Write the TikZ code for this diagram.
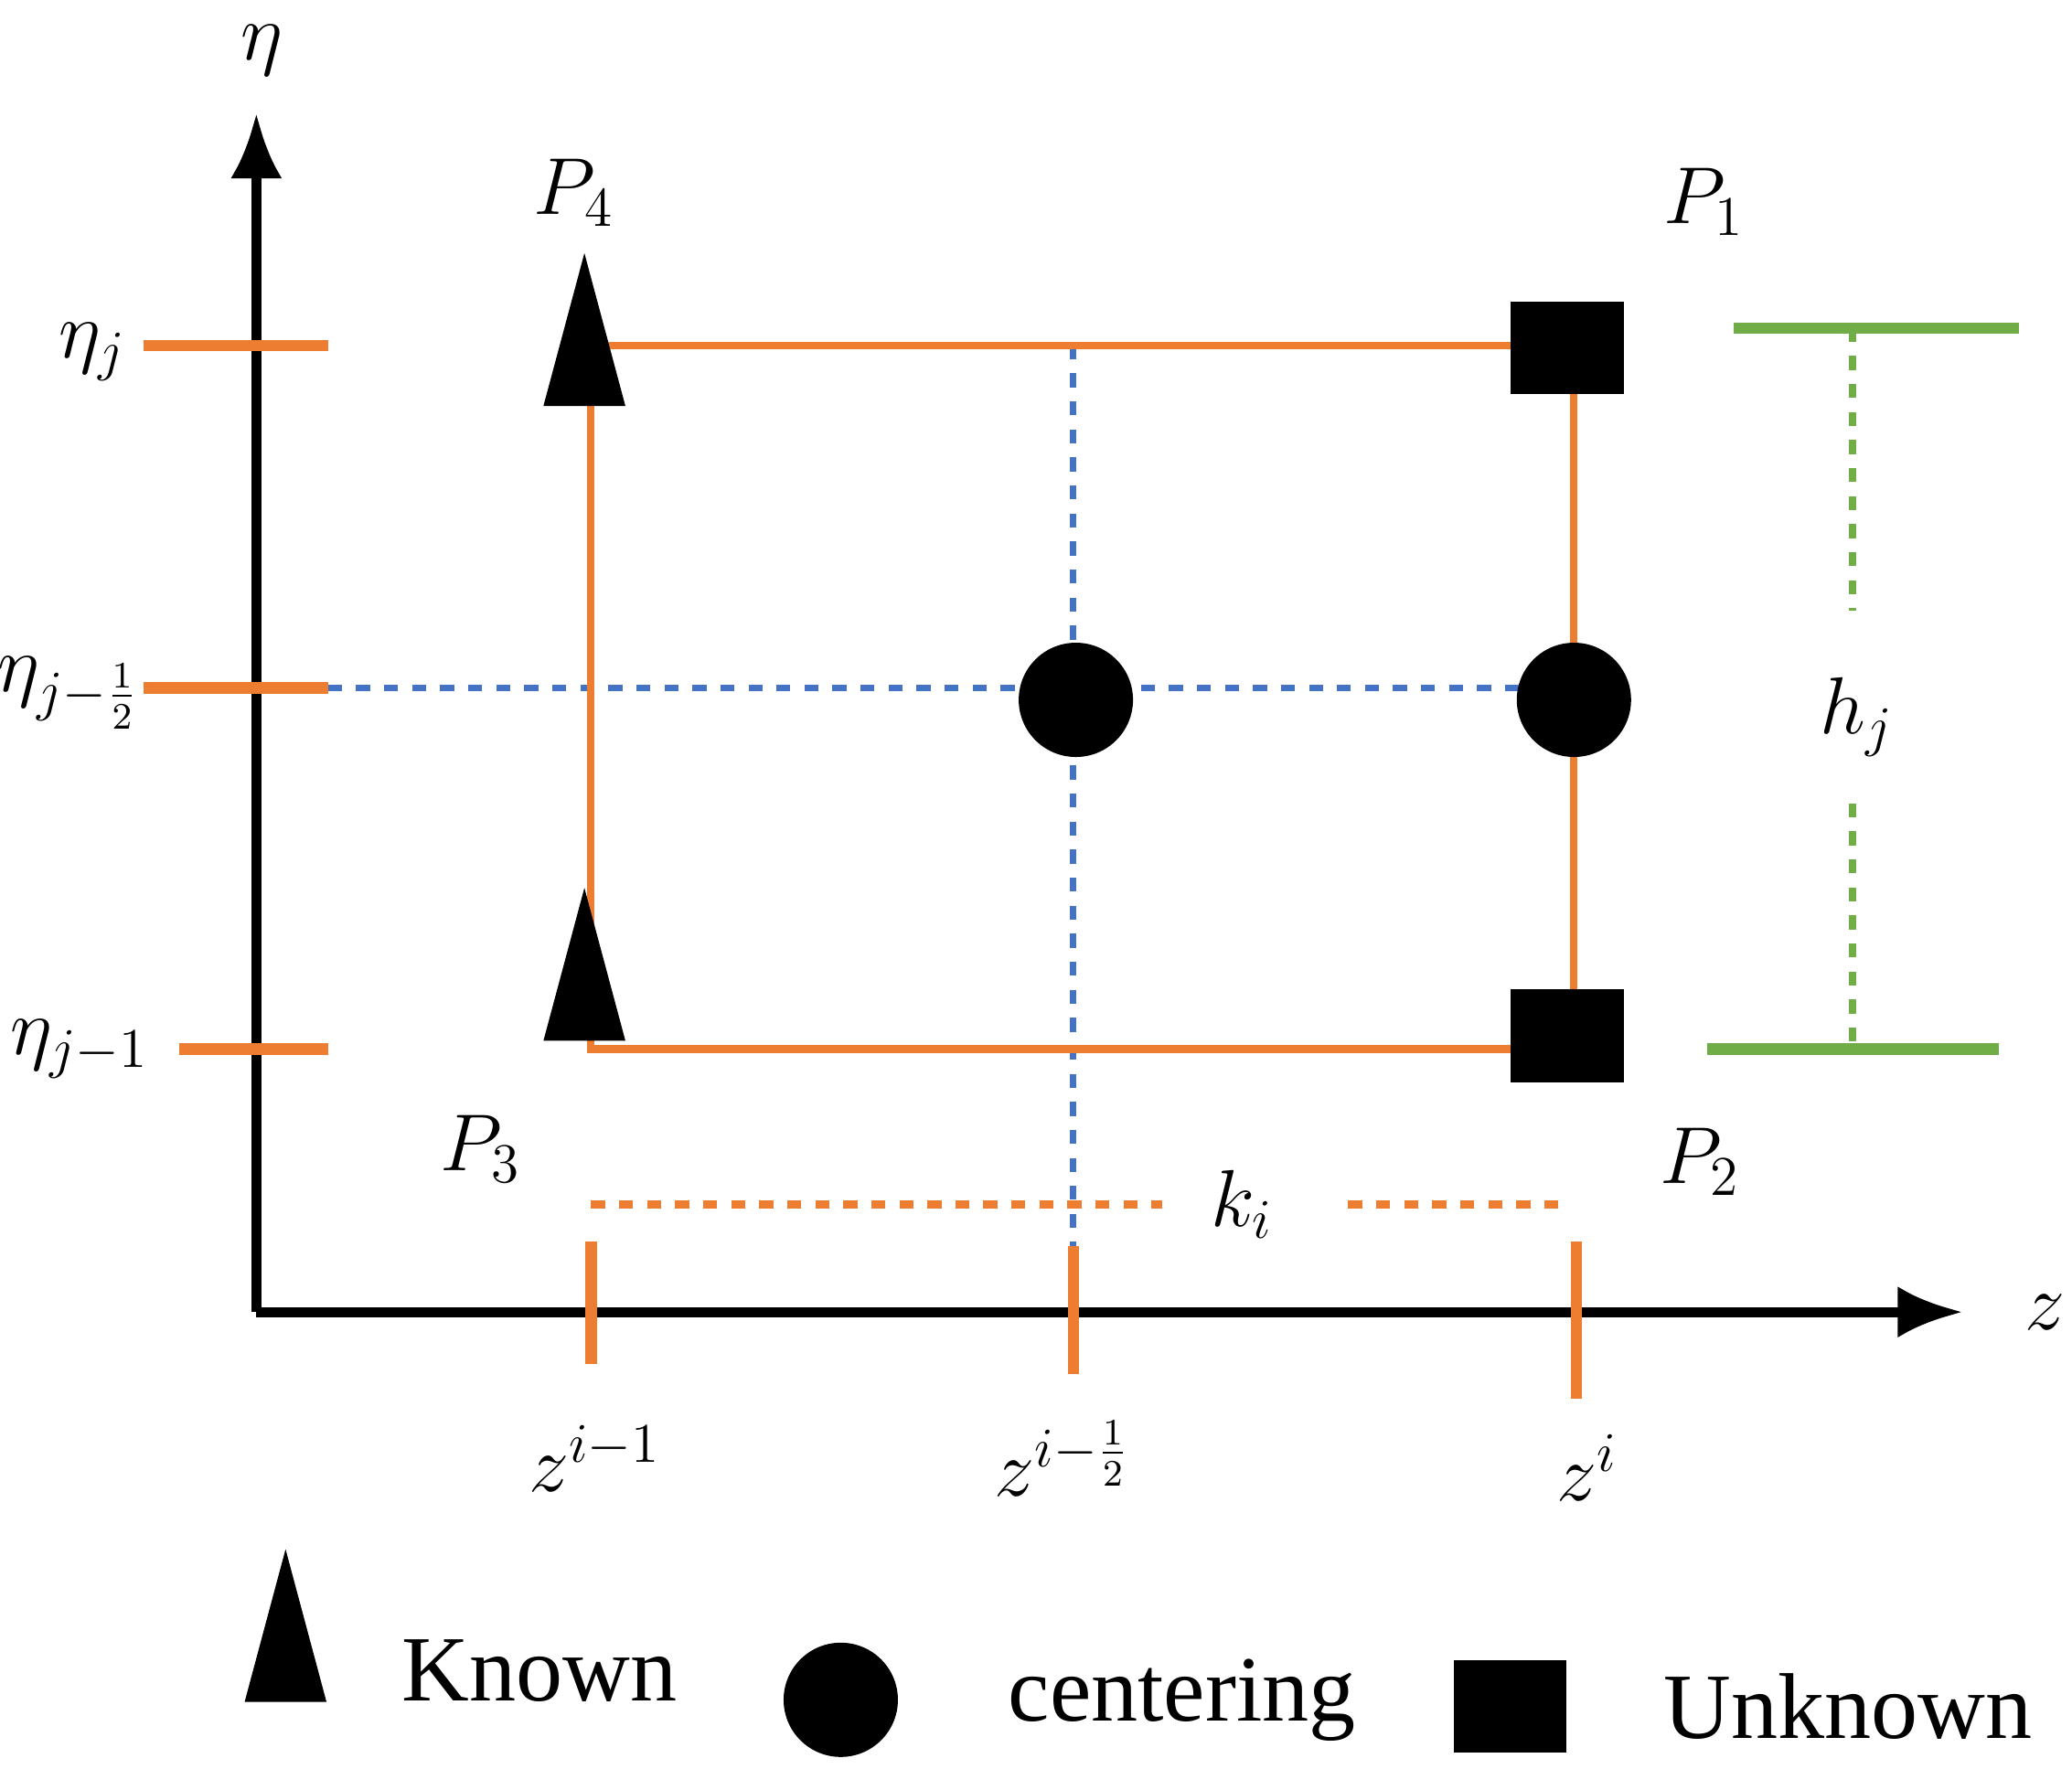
\documentclass[tikz,border=0pt]{standalone}
\usepackage{fontspec}
\setmainfont{Liberation Serif}
\usetikzlibrary{arrows.meta,shapes.geometric,positioning}
\definecolor{gridor}{RGB}{237,125,49}
\definecolor{gridbl}{RGB}{68,114,196}
\definecolor{gridgr}{RGB}{112,173,71}
\begin{document}
\begin{tikzpicture}[x=0.01cm,y=-0.01cm,font=\fontsize{20}{24}\selectfont]
  \tikzset{axis/.style={line width=2.2pt,-{Latex[length=14pt,width=11pt]}}}
  \tikzset{grid/.style={draw=gridor,line width=1.6pt}}
  \tikzset{tick/.style={draw=gridor,line width=2.4pt}}
  \tikzset{mid/.style={draw=gridbl,line width=1.4pt,dashed}}
  \tikzset{lbl/.style={font=\fontsize{17}{20}\selectfont,inner sep=1pt}}
  \tikzset{known/.style={isosceles triangle,shape border rotate=90,isosceles triangle apex angle=30,fill=black,inner sep=0pt,minimum height=1.15cm,minimum width=0.6cm}}
  \tikzset{centre/.style={circle,fill=black,inner sep=0pt,minimum size=0.86cm}}
  \tikzset{unknown/.style={rectangle,fill=black,inner sep=0pt,minimum width=0.85cm,minimum height=0.7cm}}
  \useasboundingbox (0,0) rectangle (1560,1332);

  % axes
  \coordinate (o) at (193,988);
  \coordinate (yend) at (193,85);
  \coordinate (xend) at (1478,988);
  \draw[axis] (o) -- (yend);
  \draw[axis] (o) -- (xend);
  \node[lbl] (eta) at (197,38) {$\eta$};
  \node[lbl] (zz) at (1540,988) {$z$};

  % corners
  \coordinate (c4) at (445,260);
  \coordinate (c1) at (1185,260);
  \coordinate (c3) at (445,790);
  \coordinate (c2) at (1185,790);
  \coordinate (lm) at (247,518);
  \coordinate (rm) at (1185,518);
  \coordinate (tm) at (808,260);
  \coordinate (bm) at (808,938);

  \draw[mid] (lm) -- (rm);
  \draw[mid] (tm) -- (bm);
  \draw[grid] (c4) -- (c1) -- (c2) -- (c3) -- cycle;

  % ticks on eta axis
  \coordinate (t1a) at (108,260); \coordinate (t1b) at (247,260);
  \coordinate (t2a) at (108,518); \coordinate (t2b) at (247,518);
  \coordinate (t3a) at (135,790); \coordinate (t3b) at (247,790);
  \draw[tick] (t1a) -- (t1b);
  \draw[tick] (t2a) -- (t2b);
  \draw[tick] (t3a) -- (t3b);
  \node[lbl] (etaj) at (70,265) {$\eta_j$};
  \node[lbl] (etah) at (52,522) {$\eta_{j-\frac12}$};
  \node[lbl] (etam) at (60,790) {$\eta_{j-1}$};

  % ticks on z axis
  \coordinate (s1a) at (445,935); \coordinate (s1b) at (445,1027);
  \coordinate (s2a) at (808,938); \coordinate (s2b) at (808,1035);
  \coordinate (s3a) at (1187,935); \coordinate (s3b) at (1187,1053);
  \draw[tick] (s1a) -- (s1b);
  \draw[tick] (s2a) -- (s2b);
  \draw[tick] (s3a) -- (s3b);
  \node[lbl] (zim) at (448,1098) {$z^{i-1}$};
  \node[lbl] (zih) at (800,1098) {$z^{i-\frac12}$};
  \node[lbl] (zi) at (1195,1105) {$z^{i}$};

  % k_i
  \node[lbl] (ki) at (935,907) {$k_i$};
  \coordinate (ka) at (445,907); \coordinate (kc) at (875,907);
  \coordinate (kd) at (1015,907); \coordinate (kb) at (1178,907);
  \draw[grid,dashed] (ka) -- (kc);
  \draw[grid,dashed] (kd) -- (kb);

  % h_j
  \coordinate (ha) at (1305,247); \coordinate (hb) at (1520,247);
  \coordinate (hc) at (1285,790); \coordinate (hd) at (1505,790);
  \coordinate (hu) at (1395,247); \coordinate (hv) at (1395,460);
  \coordinate (hw) at (1395,605); \coordinate (hl) at (1395,790);
  \draw[draw=gridgr,line width=2.4pt] (ha) -- (hb);
  \draw[draw=gridgr,line width=2.4pt] (hc) -- (hd);
  \node[lbl] (hj) at (1398,540) {$h_j$};
  \draw[draw=gridgr,line width=1.6pt,dashed] (hu) -- (hv);
  \draw[draw=gridgr,line width=1.6pt,dashed] (hw) -- (hl);

  % points
  \node[known] (k4) at (440,282) {};
  \node[known] (k3) at (440,760) {};
  \node[unknown] (u1) at (1180,262) {};
  \node[unknown] (u2) at (1180,780) {};
  \node[centre] (m1) at (810,527) {};
  \node[centre] (m2) at (1185,527) {};
  \node[lbl] (p4) at (432,145) {$P_4$};
  \node[lbl] (p1) at (1283,152) {$P_1$};
  \node[lbl] (p3) at (362,865) {$P_3$};
  \node[lbl] (p2) at (1280,875) {$P_2$};

  % legend
  \node[known] (lk) at (215,1258) {};
  \node[right=0.5cm of lk] (lkt) {Known};
  \node[centre] (lc) at (633,1280) {};
  \node[right=0.7cm of lc] (lct) {centering};
  \node[unknown] (lu) at (1137,1285) {};
  \node[right=0.6cm of lu] (lut) {Unknown};
\end{tikzpicture}
\end{document}
